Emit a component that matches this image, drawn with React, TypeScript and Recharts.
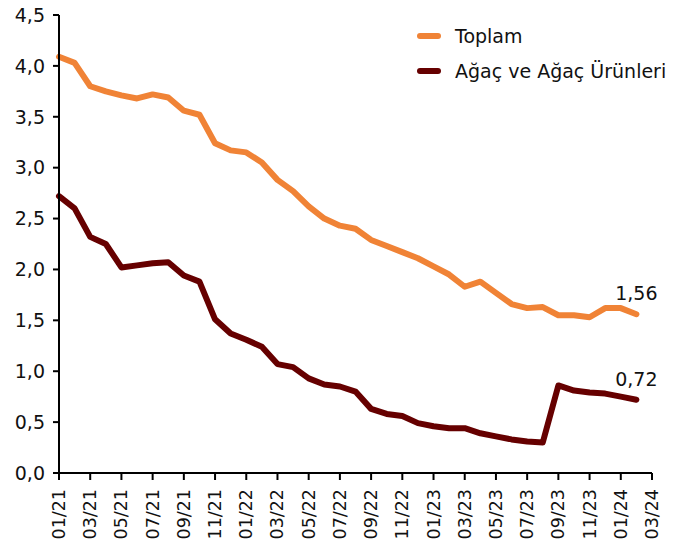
import { LineChart, Line, XAxis, YAxis, LabelList } from "recharts";

const months = [
  "01/21", "02/21", "03/21", "04/21", "05/21", "06/21", "07/21", "08/21", "09/21", "10/21", "11/21", "12/21",
  "01/22", "02/22", "03/22", "04/22", "05/22", "06/22", "07/22", "08/22", "09/22", "10/22", "11/22", "12/22",
  "01/23", "02/23", "03/23", "04/23", "05/23", "06/23", "07/23", "08/23", "09/23", "10/23", "11/23", "12/23",
  "01/24", "02/24", "03/24",
];

const toplam = [
  4.09, 4.03, 3.8, 3.75, 3.71, 3.68, 3.72, 3.69, 3.56, 3.52, 3.24, 3.17,
  3.15, 3.05, 2.88, 2.77, 2.62, 2.5, 2.43, 2.4, 2.29, 2.23, 2.17, 2.11,
  2.03, 1.95, 1.83, 1.88, 1.77, 1.66, 1.62, 1.63, 1.55, 1.55, 1.53, 1.62,
  1.62, 1.56, null,
];

const agac = [
  2.72, 2.6, 2.32, 2.25, 2.02, 2.04, 2.06, 2.07, 1.94, 1.88, 1.51, 1.37,
  1.31, 1.24, 1.07, 1.04, 0.93, 0.87, 0.85, 0.8, 0.63, 0.58, 0.56, 0.49,
  0.46, 0.44, 0.44, 0.39, 0.36, 0.33, 0.31, 0.3, 0.86, 0.81, 0.79, 0.78,
  0.75, 0.72, null,
];

const yTicks = [0, 0.5, 1, 1.5, 2, 2.5, 3, 3.5, 4, 4.5];

const ORANGE = "#F08336";
const MAROON = "#660000";
const FONT = "'DejaVu Sans', sans-serif";

const data = months.map((m, i) => ({ month: m, toplam: toplam[i], agac: agac[i] }));
const lastIdx = 37;

const fmt = (v: number, d: number) => v.toFixed(d).replace(".", ",");

function XTick({ x, y, payload }: any) {
  const ty = y + 7;
  return (
    <text
      x={x}
      y={ty}
      transform={`rotate(-90, ${x}, ${ty})`}
      textAnchor="end"
      dominantBaseline="central"
      fontSize={17.5}
      fontFamily={FONT}
      fill="#111"
    >
      {payload.value}
    </text>
  );
}

const endLabel = (props: any) => {
  const { x, y, index, value } = props;
  if (index !== lastIdx || value == null) return null;
  return (
    <text x={x} y={y - 14} textAnchor="middle" fontSize={19} fontFamily={FONT} fill="#111">
      {fmt(value, 2)}
    </text>
  );
};

const legendItems = [
  { name: "Toplam", color: ORANGE },
  { name: "Ağaç ve Ağaç Ürünleri", color: MAROON },
];

export default function App() {
  return (
    <div style={{ position: "absolute", left: 0, top: 0, width: 686, height: 539, background: "#fff" }}>
      <LineChart width={686} height={539} data={data} margin={{ top: 15, right: 34, left: 0, bottom: 0 }}>
        <XAxis
          dataKey="month"
          interval={1}
          height={66}
          tickSize={7}
          tick={<XTick />}
          axisLine={{ stroke: "#000", strokeWidth: 2 }}
          tickLine={{ stroke: "#000", strokeWidth: 2 }}
        />
        <YAxis
          width={59}
          domain={[0, 4.5]}
          ticks={yTicks}
          tickFormatter={(v: number) => fmt(v, 1)}
          tickSize={6}
          tickMargin={8}
          tick={{ fontSize: 19, fontFamily: FONT, fill: "#111" }}
          axisLine={{ stroke: "#000", strokeWidth: 2 }}
          tickLine={{ stroke: "#000", strokeWidth: 2 }}
        />
        <Line
          dataKey="toplam"
          name="Toplam"
          stroke={ORANGE}
          strokeWidth={6}
          strokeLinecap="round"
          strokeLinejoin="round"
          dot={false}
          activeDot={false}
          isAnimationActive={false}
        >
          <LabelList dataKey="toplam" content={endLabel} />
        </Line>
        <Line
          dataKey="agac"
          name="Ağaç ve Ağaç Ürünleri"
          stroke={MAROON}
          strokeWidth={6}
          strokeLinecap="round"
          strokeLinejoin="round"
          dot={false}
          activeDot={false}
          isAnimationActive={false}
        >
          <LabelList dataKey="agac" content={endLabel} />
        </Line>
      </LineChart>
      <div style={{ position: "absolute", left: 417, top: 18, fontFamily: FONT, fontSize: 19, color: "#111" }}>
        {legendItems.map((it) => (
          <div key={it.name} style={{ display: "flex", alignItems: "center", height: 35 }}>
            <span style={{ width: 24, height: 6, borderRadius: 3, background: it.color, marginRight: 14 }} />
            <span>{it.name}</span>
          </div>
        ))}
      </div>
    </div>
  );
}
